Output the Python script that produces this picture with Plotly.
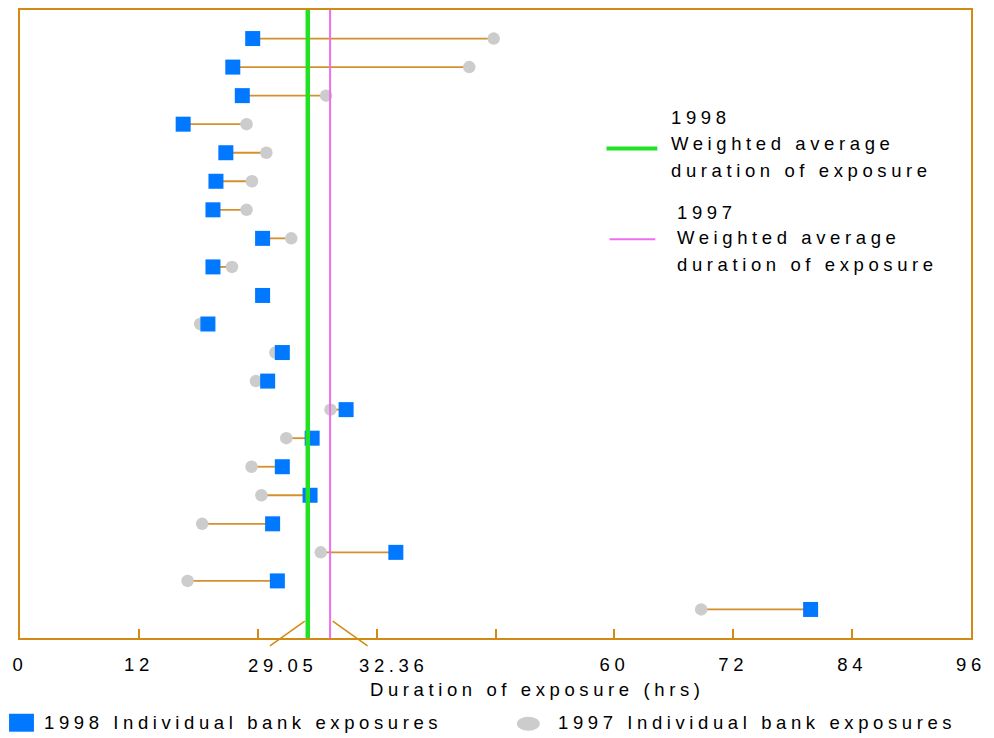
import plotly.graph_objects as go

# ---------------- data ----------------
rows = list(range(1, 22))  # one row per bank, top to bottom
exposure_1998 = [23.49, 21.48, 22.44, 16.47, 20.78, 19.78, 19.48, 24.49, 19.48, 24.49,
                 18.97, 26.48, 25.00, 32.92, 29.49, 26.48, 29.28, 25.50, 37.94, 25.98, 79.81]
exposure_1997 = [47.82, 45.35, 30.90, 22.87, 24.87, 23.41, 22.87, 27.38, 21.40, 24.49,
                 18.19, 25.78, 23.81, 31.34, 26.88, 23.37, 24.37, 18.39, 30.36, 16.92, 68.76]
avg_line_x = [29.05, 31.3]          # positions of the two average lines as drawn
avg_labels = ["29.05", "32.36"]     # values printed under the axis
tick_vals = [0, 12, 24, 36, 48, 60, 72, 84, 96]
tick_text = ["0", "12", "", "", "", "60", "72", "84", "96"]

# ---------------- styling ----------------
ORANGE = "#D38A13"
CONNECT = "#D4902C"
BLUE = "#0078FF"
GREY = "#CCCCCC"
GREEN = "#22E022"
PINK = "#EE6FEE"
FONT = "Liberation Sans, Arial, sans-serif"
FS = 18.5
LS = 4.6
TXT = "#000000"


def sp(t, ls=LS):
    return f'<span style="letter-spacing:{ls}px">{t}</span>'


# pixel helpers for decorations (plot area: x 20..975, y 8..638)
def xp(px):
    return (px - 20) / 955.0


def yp(py):
    return (638 - py) / 630.0


fig = go.Figure()

# connectors
cx, cy = [], []
for r, a, b in zip(rows, exposure_1997, exposure_1998):
    cx += [a, b, None]
    cy += [r, r, None]
fig.add_trace(go.Scatter(x=cx, y=cy, mode="lines", line=dict(color=CONNECT, width=1.8),
                         hoverinfo="skip", showlegend=False))

fig.add_trace(go.Scatter(x=exposure_1997, y=rows, mode="markers", name="1997 Individual bank exposures",
                         marker=dict(symbol="circle", size=12.5, color=GREY), showlegend=False))
fig.add_trace(go.Scatter(x=exposure_1998, y=rows, mode="markers", name="1998 Individual bank exposures",
                         marker=dict(symbol="square", size=15, color=BLUE), showlegend=False))

# average lines (on top)
fig.add_trace(go.Scatter(x=[avg_line_x[1], avg_line_x[1]], y=[0, 22], mode="lines",
                         line=dict(color=PINK, width=2), showlegend=False, hoverinfo="skip"))
fig.add_trace(go.Scatter(x=[avg_line_x[0], avg_line_x[0]], y=[0, 22], mode="lines",
                         line=dict(color=GREEN, width=4.5), showlegend=False, hoverinfo="skip"))

shapes = []
# leader lines from the average lines to their labels
shapes.append(dict(type="line", xref="paper", yref="paper", x0=xp(306), y0=yp(621), x1=xp(271), y1=yp(646),
                   line=dict(color=ORANGE, width=1.5)))
shapes.append(dict(type="line", xref="paper", yref="paper", x0=xp(334), y0=yp(621), x1=xp(369), y1=yp(646),
                   line=dict(color=ORANGE, width=1.5)))
# in-plot legend line samples
shapes.append(dict(type="line", xref="paper", yref="paper", x0=xp(609), y0=yp(147), x1=xp(660), y1=yp(147),
                   line=dict(color=GREEN, width=4)))
shapes.append(dict(type="line", xref="paper", yref="paper", x0=xp(612), y0=yp(238), x1=xp(658), y1=yp(238),
                   line=dict(color=PINK, width=2)))
# bottom legend symbols
shapes.append(dict(type="rect", xref="paper", yref="paper", x0=xp(9), y0=yp(732), x1=xp(34), y1=yp(714),
                   line=dict(width=0), fillcolor=BLUE))
shapes.append(dict(type="circle", xref="paper", yref="paper", x0=xp(519), y0=yp(731), x1=xp(542), y1=yp(717),
                   line=dict(width=0), fillcolor=GREY))

annotations = []


def add_text(t, px, py, anchor="left"):
    annotations.append(dict(text=sp(t), xref="paper", yref="paper", x=xp(px), y=yp(py),
                            xanchor=anchor, yanchor="middle", showarrow=False,
                            font=dict(family=FONT, size=FS, color=TXT)))


# in-plot legend
add_text("1998", 672, 116)
add_text("Weighted average", 672, 142)
add_text("duration of exposure", 672, 169)
add_text("1997", 678, 211)
add_text("Weighted average", 678, 236)
add_text("duration of exposure", 678, 263)

# average value labels
add_text(avg_labels[0], 284, 666, "center")
add_text(avg_labels[1], 395, 666, "center")

# axis title
add_text("Duration of exposure (hrs)", 540, 690, "center")

# bottom legend
add_text("1998 Individual bank exposures", 42, 723)
add_text("1997 Individual bank exposures", 558, 723)

fig.update_layout(
    width=994, height=738, autosize=False,
    margin=dict(l=20, r=19, t=8, b=100, pad=0),
    paper_bgcolor="white", plot_bgcolor="white",
    showlegend=False,
    shapes=shapes, annotations=annotations,
    font=dict(family=FONT, size=FS, color=TXT),
)
fig.update_xaxes(range=[0, 96], tickmode="array", tickvals=tick_vals,
                 ticktext=[sp(t) for t in tick_text],
                 ticks="inside", ticklen=9, tickwidth=1.5, tickcolor=ORANGE,
                 showline=True, mirror=True, linecolor=ORANGE, linewidth=2,
                 showgrid=False, zeroline=False, ticklabelstandoff=9,
                 tickfont=dict(family=FONT, size=FS, color=TXT))
fig.update_yaxes(range=[22, 0], showticklabels=False, ticks="",
                 showline=True, mirror=True, linecolor=ORANGE, linewidth=2,
                 showgrid=False, zeroline=False)

fig.write_html("out.html", config={"displayModeBar": False},
               post_script="document.body.style.margin='0px';document.body.style.overflow='hidden';")
